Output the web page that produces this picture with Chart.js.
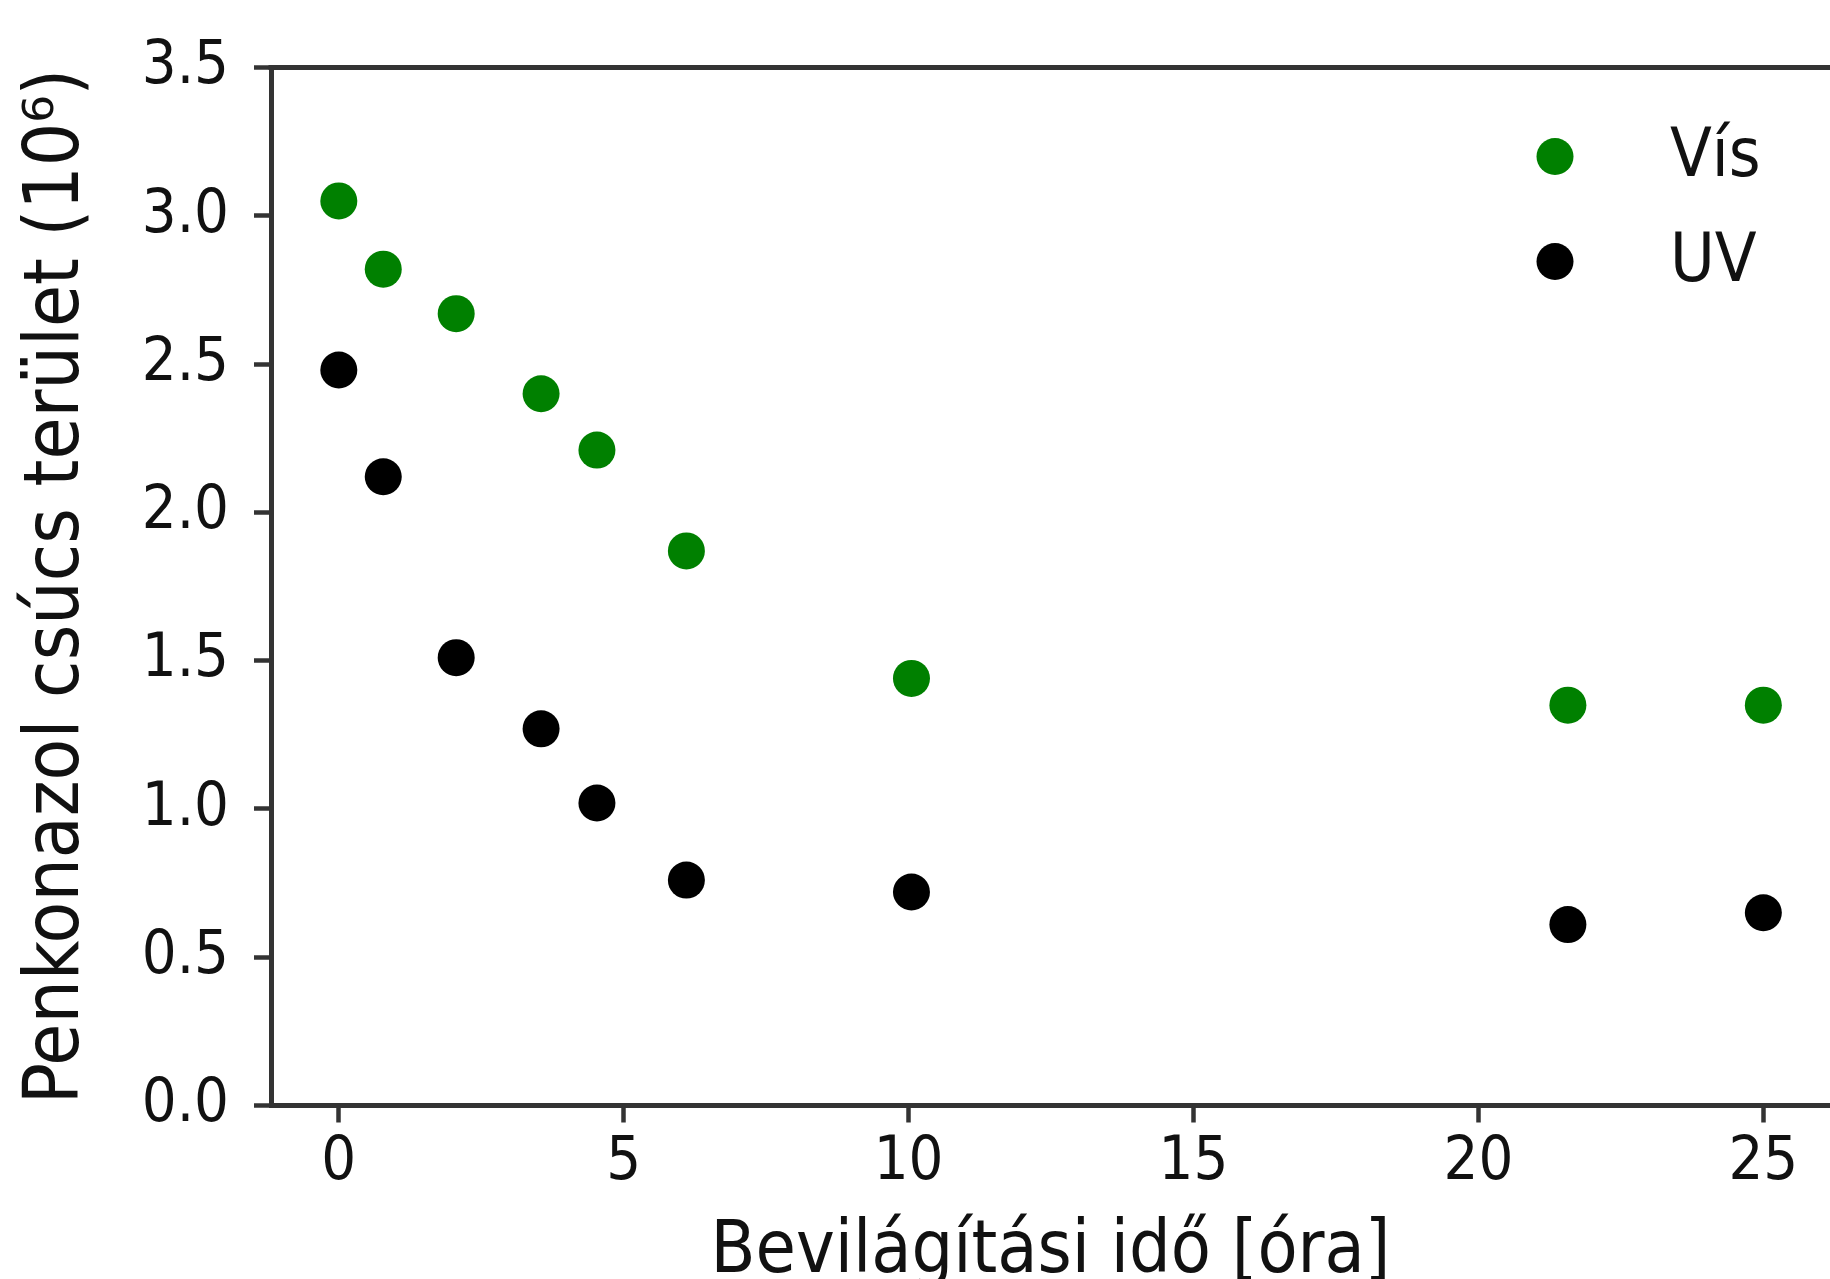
<!DOCTYPE html>
<html>
<head>
<meta charset="utf-8">
<script src="https://cdn.jsdelivr.net/npm/chart.js@4"></script>
<style>
  html, body { margin: 0; padding: 0; background: #fff; overflow: hidden; }
  #wrap { width: 1830px; height: 1279px; }
</style>
</head>
<body>
<div id="wrap"><canvas id="chart"></canvas></div>
<script>
// Data
const hours = [0, 0.78, 2.06, 3.55, 4.53, 6.1, 10.05, 21.57, 25];
const visArea = [3.05, 2.82, 2.67, 2.40, 2.21, 1.87, 1.44, 1.35, 1.35];
const uvArea = [2.48, 2.12, 1.51, 1.27, 1.02, 0.76, 0.72, 0.61, 0.65];
const seriesNames = ['Vís', 'UV'];
const xTicks = [0, 5, 10, 15, 20, 25];
const yTicks = [0, 0.5, 1.0, 1.5, 2.0, 2.5, 3.0, 3.5];

const FONT = "'DejaVu Sans Condensed', 'DejaVu Sans', sans-serif";
Chart.defaults.font.family = FONT;
Chart.defaults.color = '#111';

const toPoints = (ys) => hours.map((h, i) => ({ x: h, y: ys[i] }));

// top spine (matplotlib box)
const frameTop = {
    id: 'frameTop',
    afterDraw(chart) {
        const { ctx, chartArea } = chart;
        ctx.save();
        ctx.strokeStyle = '#333';
        ctx.lineWidth = 5;
        ctx.beginPath();
        ctx.moveTo(chartArea.left - 2.5, chartArea.top);
        ctx.lineTo(chartArea.right, chartArea.top);
        ctx.stroke();
        ctx.restore();
    }
};

// legend drawn inside the plot, top right
const innerLegend = {
    id: 'innerLegend',
    afterDatasetsDraw(chart) {
        const { ctx, chartArea } = chart;
        const mx = chartArea.right - 275;
        const tx = chartArea.right - 160;
        let y = chartArea.top + 89;
        ctx.save();
        chart.data.datasets.forEach(ds => {
            ctx.fillStyle = ds.backgroundColor;
            ctx.beginPath();
            ctx.arc(mx, y, 18.5, 0, Math.PI * 2);
            ctx.fill();
            ctx.fillStyle = '#111';
            ctx.font = '68px ' + FONT;
            ctx.textAlign = 'left';
            ctx.textBaseline = 'middle';
            ctx.fillText(ds.label, tx, y + 2);
            y += 105;
        });
        ctx.restore();
    }
};

new Chart(document.getElementById('chart'), {
    type: 'scatter',
    data: {
        datasets: [{
            label: seriesNames[0],
            data: toPoints(visArea),
            backgroundColor: '#008000',
            borderWidth: 0,
            pointRadius: 18.5,
            pointHoverRadius: 18.5
        }, {
            label: seriesNames[1],
            data: toPoints(uvArea),
            backgroundColor: '#000000',
            borderWidth: 0,
            pointRadius: 18.5,
            pointHoverRadius: 18.5
        }]
    },
    plugins: [frameTop, innerLegend],
    options: {
        responsive: true,
        maintainAspectRatio: false,
        devicePixelRatio: 1,
        animation: false,
        layout: {
            autoPadding: false,
            padding: { top: 67.5, right: 0, left: 0, bottom: 0 }
        },
        plugins: {
            legend: { display: false },
            tooltip: { enabled: false }
        },
        scales: {
            x: {
                type: 'linear',
                min: -1.19,
                max: 26.17,
                afterBuildTicks: (axis) => { axis.ticks = xTicks.map(v => ({ value: v })); },
                afterFit: (axis) => {
                    axis.height = 173.5;
                    axis.paddingLeft = 0;
                    axis.paddingRight = 0;
                },
                grid: {
                    drawOnChartArea: false,
                    drawTicks: true,
                    tickLength: 17,
                    tickColor: '#333',
                    tickWidth: 4.5
                },
                border: { display: true, color: '#333', width: 5 },
                ticks: {
                    padding: 4,
                    maxRotation: 0,
                    font: { size: 61 },
                    callback: (v) => String(v)
                },
                title: {
                    display: true,
                    text: 'Bevilágítási idő [óra]',
                    color: '#111',
                    font: { size: 73, lineHeight: 0.72 },
                    padding: 0
                }
            },
            y: {
                type: 'linear',
                min: 0,
                max: 3.5,
                afterBuildTicks: (axis) => { axis.ticks = yTicks.map(v => ({ value: v })); },
                afterFit: (axis) => {
                    axis.width = 271;
                    axis.paddingTop = 0;
                    axis.paddingBottom = 0;
                },
                grid: {
                    drawOnChartArea: false,
                    drawTicks: true,
                    tickLength: 17,
                    tickColor: '#333',
                    tickWidth: 4.5
                },
                border: { display: true, color: '#333', width: 5 },
                ticks: {
                    padding: 25,
                    font: { size: 61 },
                    callback: (v) => Number(v).toFixed(1)
                },
                title: {
                    display: true,
                    text: 'Penkonazol csúcs terület (10⁶)',
                    color: '#111',
                    font: { size: 76, lineHeight: 1.2 },
                    padding: { top: 13, bottom: 0 }
                }
            }
        }
    }
});
</script>
</body>
</html>
